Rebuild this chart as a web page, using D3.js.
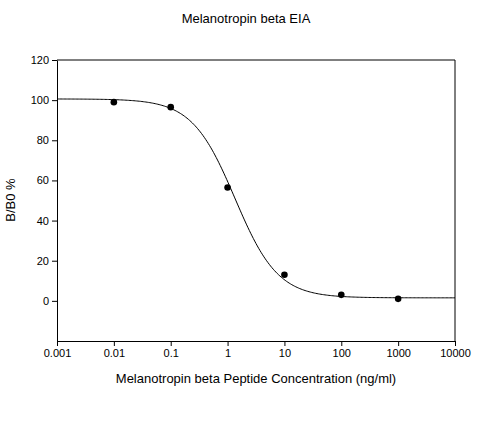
<!DOCTYPE html>
<html><head><meta charset="utf-8">
<script src="https://cdn.jsdelivr.net/npm/d3@7"></script>
<style>body{margin:0;background:#fff}text{font-family:Arial,"Liberation Sans",sans-serif}</style>
</head><body><svg id="c" width="492" height="433"></svg>
<script>
const concentrations = [0.01, 0.1, 1, 10, 100, 1000];
const bb0 = [99, 96.5, 56.5, 13, 3, 1];
const xTicks = [0.001, 0.01, 0.1, 1, 10, 100, 1000, 10000];
const xTickLabels = ["0.001","0.01","0.1","1","10","100","1000","10000"];
const yTicks = [0, 20, 40, 60, 80, 100, 120];
// 4-parameter logistic fit (estimated)
const fitTop = 100.6, fitBottom = 1.5, fitIC50 = 1.35, fitSlope = 1.15;

const svg = d3.select("#c");
const m = {l:57, r:37, t:60, b:92};
const W = 492, H = 433;
const x = d3.scaleLog().domain([0.001, 10000]).range([m.l, W - m.r]);
const y = d3.scaleLinear().domain([-20, 120]).range([H - m.b, m.t]);

svg.append("g").attr("transform",`translate(0,${H-m.b})`)
  .call(d3.axisBottom(x).tickValues(xTicks).tickFormat((d,i)=>xTickLabels[i]).tickSize(5).tickSizeOuter(0))
  .call(g=>g.selectAll("text").attr("font-size",11).attr("fill","#000"));
svg.append("g").attr("transform",`translate(${m.l},0)`)
  .call(d3.axisLeft(y).tickValues(yTicks).tickSize(5).tickSizeOuter(0))
  .call(g=>g.selectAll("text").attr("font-size",11).attr("fill","#000"));
svg.append("line").attr("x1",W-m.r).attr("x2",W-m.r).attr("y1",m.t).attr("y2",H-m.b).attr("stroke","#000");
svg.append("line").attr("x1",m.l).attr("x2",W-m.r).attr("y1",m.t).attr("y2",m.t).attr("stroke","#000");

const f = c => fitBottom + (fitTop - fitBottom) / (1 + Math.pow(c / fitIC50, fitSlope));
const xs = d3.range(0, 301).map(i => Math.pow(10, -3 + 7 * i / 300));
svg.append("path").attr("d", d3.line().x(d=>x(d)).y(d=>y(f(d)))(xs))
  .attr("fill","none").attr("stroke","#000").attr("stroke-width",1);

svg.selectAll("circle.p").data(concentrations).join("circle")
  .attr("cx",d=>x(d)).attr("cy",(d,i)=>y(bb0[i])).attr("r",3.3).attr("fill","#000");

svg.append("text").attr("x",246).attr("y",23).attr("text-anchor","middle").attr("font-size",13).text("Melanotropin beta EIA");
svg.append("text").attr("x",256).attr("y",383).attr("text-anchor","middle").attr("font-size",13).text("Melanotropin beta Peptide Concentration (ng/ml)");
svg.append("text").attr("transform","translate(15,200) rotate(-90)").attr("text-anchor","middle").attr("font-size",13).text("B/B0 %");
</script></body></html>
